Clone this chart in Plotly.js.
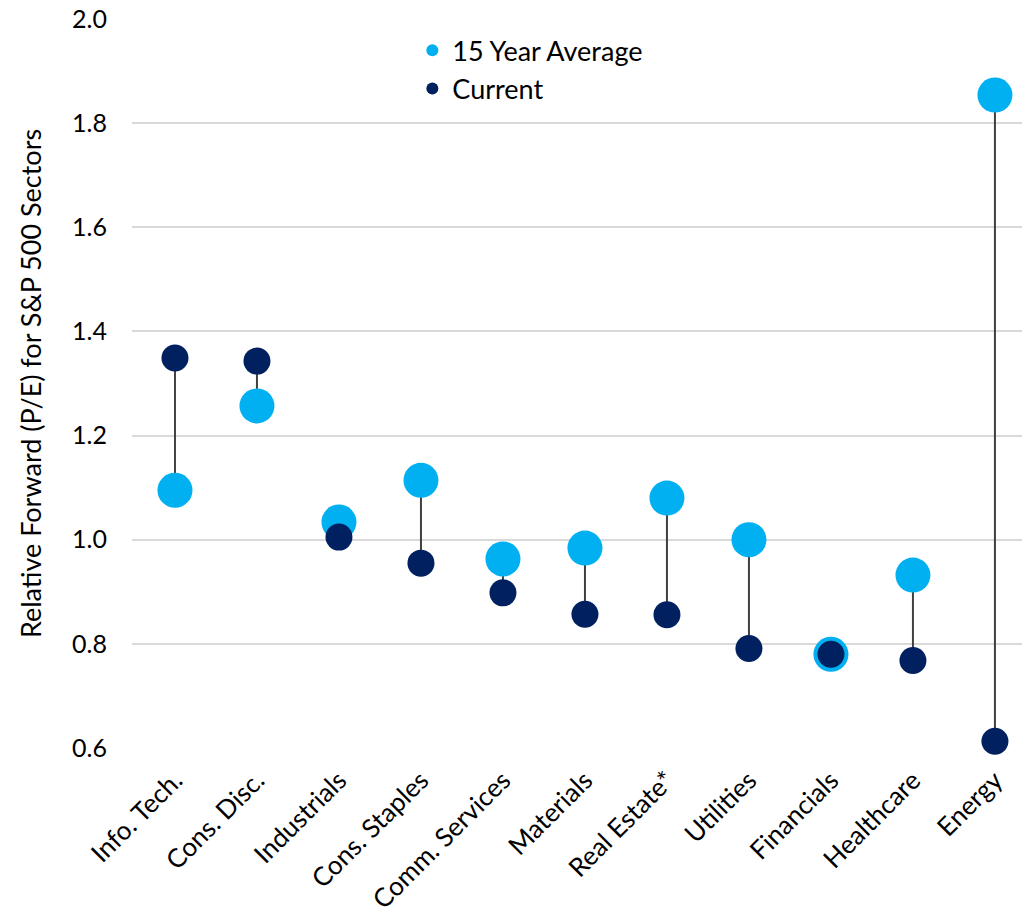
<!DOCTYPE html>
<html>
<head>
<meta charset="utf-8">
<script src="https://cdn.plot.ly/plotly-3.0.1.min.js"></script>
<style>html,body{margin:0;padding:0;background:#fff;}#chart{width:1022px;height:917px;}</style>
</head>
<body>
<div id="chart"></div>
<script>
const sectors = ["Info. Tech.", "Cons. Disc.", "Industrials", "Cons. Staples", "Comm. Services", "Materials", "Real Estate*", "Utilities", "Financials", "Healthcare", "Energy"];
const avg15 = [1.095, 1.257, 1.034, 1.114, 0.963, 0.984, 1.080, 1.000, 0.780, 0.932, 1.854];
const current = [1.349, 1.343, 1.005, 0.955, 0.898, 0.857, 0.856, 0.791, 0.780, 0.768, 0.613];

const lx = [], ly = [];
sectors.forEach((s, i) => { lx.push(s, s, null); ly.push(avg15[i], current[i], null); });

const font = "Lato, Open Sans, sans-serif";
const traces = [
  {x: lx, y: ly, mode: 'lines', line: {color: '#404040', width: 2}, showlegend: false, hoverinfo: 'skip', cliponaxis: false},
  {x: sectors, y: avg15, mode: 'markers', name: '15 Year Average', marker: {color: '#00B0F0', size: 35}, cliponaxis: false},
  {x: sectors, y: current, mode: 'markers', name: 'Current', marker: {color: '#002060', size: 27}, cliponaxis: false}
];
const layout = {
  width: 1022, height: 917,
  margin: {l: 132, r: 0, t: 19, b: 169},
  paper_bgcolor: '#fff', plot_bgcolor: '#fff',
  font: {family: font, size: 24, color: '#000'},
  xaxis: {
    type: 'category', range: [-0.524, 10.33], showgrid: false, zeroline: false, showline: false,
    tickangle: -45, tickfont: {size: 26, color: '#000'}, ticks: '', ticklabelstandoff: 11, fixedrange: true
  },
  yaxis: {
    range: [0.6, 2.0], dtick: 0.2, tickformat: '.1f', showgrid: true, gridcolor: '#d9d9d9', gridwidth: 2,
    zeroline: false, showline: false, ticks: '', ticklabelstandoff: 24,
    tickfont: {size: 25, color: '#000'},
    title: {text: 'Relative Forward (P/E) for S&P 500 Sectors', font: {size: 27, color: '#000'}, standoff: 22}
  },
  legend: {x: 0.315, y: 0.99, xanchor: 'left', yanchor: 'top', bgcolor: 'rgba(0,0,0,0)', font: {size: 27, color: '#000'}, itemsizing: 'constant', tracegroupgap: 0, itemwidth: 30},
  showlegend: true
};
Plotly.newPlot('chart', traces, layout, {displayModeBar: false, staticPlot: true});
</script>
</body>
</html>
